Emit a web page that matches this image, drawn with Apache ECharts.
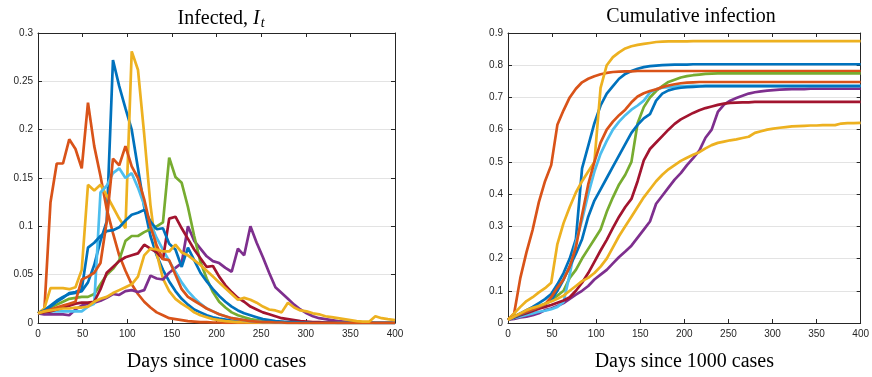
<!DOCTYPE html>
<html>
<head>
<meta charset="utf-8">
<script src="https://cdn.jsdelivr.net/npm/echarts@6/dist/echarts.min.js"></script>
<style>
html,body{margin:0;padding:0;background:#fff;}
#chart{width:872px;height:377px;}
</style>
</head>
<body>
<div id="chart"></div>
<script>
// Days since 1000 cases (weekly samples)
var days = [0,7,14,21,28,35,42,49,56,63,
  70,77,84,91,98,105,112,119,126,133,
  140,147,154,161,168,175,182,189,196,203,
  210,217,224,231,238,245,252,259,266,273,
  280,287,294,301,308,315,322,329,336,343,
  350,357,364,371,378,385,392,400];

var xTicks = [0,50,100,150,200,250,300,350,400];
var yTicksLeft = [0,0.05,0.1,0.15,0.2,0.25,0.3];
var yTicksRight = [0,0.1,0.2,0.3,0.4,0.5,0.6,0.7,0.8,0.9];

var colors = ['#0072BD','#D95319','#EDB120','#7E2F8E','#77AC30','#4DBEEE','#A2142F','#0072BD','#D95319','#EDB120'];

// Infected, I_t
var inf1 = [0.010,0.013,0.018,0.023,0.027,0.030,0.031,0.033,0.042,0.060,
  0.085,0.105,0.272,0.245,0.222,0.200,0.160,0.120,0.090,0.070,
  0.055,0.043,0.033,0.025,0.019,0.014,0.011,0.008,0.006,0.0045,
  0.0035,0.0025,0.002,0.0015,0.001,0.001,0.0005,0.0005,0.0005,0.0005,
  0,0,0,0,0,0,0,0,0,0,
  0,0,0,0,0,0,0,0];
var inf2 = [0.010,0.011,0.125,0.165,0.165,0.190,0.180,0.160,0.228,0.183,
  0.152,0.118,0.093,0.070,0.054,0.040,0.030,0.022,0.016,0.011,
  0.008,0.005,0.004,0.003,0.002,0.0015,0.001,0.001,0.0005,0.0005,
  0,0,0,0,0,0,0,0,0,0,
  0,0,0,0,0,0,0,0,0,0,
  0,0,0,0,0,0,0,0];
var inf3 = [0.010,0.015,0.036,0.036,0.036,0.035,0.037,0.055,0.143,0.137,
  0.143,0.132,0.120,0.108,0.098,0.281,0.262,0.195,0.122,0.072,
  0.046,0.033,0.025,0.020,0.016,0.011,0.008,0.006,0.004,0.003,
  0.002,0.0015,0.001,0.001,0.0005,0.0005,0,0,0,0,
  0,0,0,0,0,0,0,0,0,0,
  0,0,0,0,0,0,0,0];
var inf4 = [0.010,0.009,0.009,0.009,0.009,0.008,0.014,0.018,0.020,0.021,
  0.023,0.026,0.030,0.029,0.033,0.034,0.032,0.034,0.049,0.046,
  0.045,0.052,0.057,0.062,0.100,0.085,0.077,0.069,0.064,0.062,
  0.057,0.053,0.077,0.070,0.100,0.083,0.068,0.052,0.037,0.031,
  0.025,0.019,0.014,0.010,0.007,0.005,0.004,0.003,0.002,0.0015,
  0.001,0.001,0.0005,0.0005,0,0,0,0];
var inf5 = [0.010,0.013,0.016,0.019,0.022,0.025,0.026,0.027,0.027,0.030,
  0.040,0.050,0.056,0.065,0.085,0.090,0.090,0.094,0.097,0.100,
  0.104,0.171,0.151,0.145,0.120,0.090,0.063,0.046,0.032,0.022,
  0.016,0.011,0.008,0.006,0.004,0.003,0.002,0.0015,0.001,0.001,
  0.0005,0.0005,0,0,0,0,0,0,0,0,
  0,0,0,0,0,0,0,0];
var inf6 = [0.010,0.011,0.012,0.012,0.012,0.012,0.012,0.012,0.017,0.020,
  0.135,0.142,0.155,0.160,0.150,0.155,0.140,0.122,0.103,0.088,
  0.076,0.064,0.053,0.042,0.033,0.026,0.020,0.015,0.012,0.009,
  0.007,0.005,0.004,0.003,0.002,0.0015,0.001,0.001,0.0005,0,
  0,0,0,0,0,0,0,0,0,0,
  0,0,0,0,0,0,0,0];
var inf7 = [0.010,0.011,0.012,0.014,0.016,0.018,0.020,0.021,0.021,0.022,
  0.035,0.052,0.058,0.064,0.068,0.070,0.072,0.081,0.077,0.073,
  0.066,0.108,0.110,0.098,0.087,0.076,0.067,0.058,0.059,0.048,
  0.039,0.032,0.026,0.022,0.017,0.014,0.011,0.009,0.007,0.005,
  0.004,0.003,0.002,0.0015,0.001,0.001,0.0005,0.0005,0,0,
  0,0,0,0,0,0,0,0];
var inf8 = [0.010,0.013,0.017,0.022,0.026,0.031,0.032,0.035,0.078,0.083,
  0.090,0.095,0.096,0.099,0.106,0.112,0.114,0.117,0.105,0.097,
  0.098,0.082,0.076,0.058,0.078,0.065,0.052,0.043,0.035,0.028,
  0.022,0.017,0.013,0.010,0.008,0.006,0.004,0.003,0.002,0.0015,
  0.001,0.001,0.0005,0.0005,0,0,0,0,0,0,
  0,0,0,0,0,0,0,0];
var inf9 = [0.010,0.012,0.014,0.016,0.018,0.020,0.022,0.045,0.048,0.052,
  0.062,0.105,0.170,0.163,0.183,0.162,0.150,0.128,0.100,0.080,
  0.066,0.065,0.050,0.035,0.027,0.023,0.019,0.015,0.012,0.009,
  0.007,0.005,0.004,0.003,0.002,0.0015,0.001,0.001,0.0005,0.0005,
  0,0,0,0,0,0,0,0,0,0,
  0,0,0,0,0,0,0,0];
var inf10 = [0.010,0.012,0.013,0.014,0.015,0.015,0.016,0.016,0.017,0.022,
  0.025,0.027,0.031,0.034,0.037,0.040,0.048,0.070,0.077,0.076,
  0.074,0.074,0.081,0.073,0.070,0.065,0.060,0.054,0.048,0.042,
  0.036,0.030,0.024,0.026,0.024,0.021,0.017,0.014,0.013,0.011,
  0.021,0.016,0.013,0.012,0.010,0.009,0.007,0.006,0.005,0.004,
  0.003,0.002,0.0015,0.0014,0.007,0.005,0.004,0.003];

// Cumulative infection
var cum1 = [0.010,0.020,0.030,0.040,0.050,0.062,0.074,0.090,0.120,0.155,
  0.200,0.260,0.480,0.550,0.620,0.675,0.712,0.735,0.758,0.773,
  0.782,0.789,0.794,0.797,0.799,0.800,0.801,0.802,0.802,0.802,
  0.803,0.803,0.803,0.803,0.803,0.803,0.803,0.803,0.803,0.803,
  0.803,0.803,0.803,0.803,0.803,0.803,0.803,0.803,0.803,0.803,
  0.803,0.803,0.803,0.803,0.803,0.803,0.803,0.803];
var cum2 = [0.010,0.030,0.140,0.220,0.290,0.375,0.440,0.490,0.615,0.660,
  0.700,0.727,0.747,0.758,0.766,0.772,0.776,0.779,0.780,0.781,
  0.781,0.782,0.782,0.782,0.782,0.782,0.782,0.782,0.782,0.782,
  0.782,0.782,0.782,0.782,0.782,0.782,0.782,0.782,0.782,0.782,
  0.782,0.782,0.782,0.782,0.782,0.782,0.782,0.782,0.782,0.782,
  0.782,0.782,0.782,0.782,0.782,0.782,0.782,0.782];
var cum3 = [0.010,0.030,0.050,0.068,0.080,0.095,0.108,0.125,0.245,0.310,
  0.360,0.405,0.440,0.470,0.500,0.730,0.800,0.825,0.840,0.852,
  0.859,0.863,0.866,0.869,0.872,0.873,0.874,0.874,0.874,0.874,
  0.875,0.875,0.875,0.875,0.875,0.875,0.875,0.875,0.875,0.875,
  0.875,0.875,0.875,0.875,0.875,0.875,0.875,0.875,0.875,0.875,
  0.875,0.875,0.875,0.875,0.875,0.875,0.875,0.875];
var cum4 = [0.010,0.013,0.017,0.020,0.024,0.030,0.040,0.045,0.053,0.062,
  0.075,0.088,0.100,0.115,0.135,0.150,0.165,0.185,0.205,0.222,
  0.240,0.265,0.290,0.315,0.370,0.395,0.420,0.445,0.465,0.490,
  0.512,0.535,0.575,0.600,0.655,0.678,0.690,0.698,0.705,0.712,
  0.716,0.719,0.721,0.723,0.724,0.725,0.726,0.726,0.726,0.727,
  0.727,0.727,0.727,0.727,0.727,0.727,0.727,0.727];
var cum5 = [0.010,0.020,0.028,0.036,0.044,0.052,0.060,0.070,0.085,0.100,
  0.140,0.165,0.200,0.230,0.260,0.290,0.345,0.390,0.430,0.460,
  0.500,0.620,0.670,0.700,0.720,0.735,0.748,0.755,0.762,0.766,
  0.769,0.771,0.773,0.774,0.775,0.775,0.775,0.775,0.775,0.775,
  0.775,0.775,0.775,0.775,0.775,0.775,0.775,0.775,0.775,0.775,
  0.775,0.775,0.775,0.775,0.775,0.775,0.775,0.775];
var cum6 = [0.010,0.016,0.020,0.025,0.030,0.035,0.038,0.043,0.050,0.065,
  0.150,0.250,0.320,0.400,0.470,0.525,0.565,0.600,0.625,0.645,
  0.662,0.675,0.690,0.715,0.725,0.730,0.732,0.734,0.735,0.735,
  0.736,0.736,0.736,0.736,0.736,0.736,0.736,0.736,0.736,0.736,
  0.736,0.736,0.736,0.736,0.736,0.736,0.736,0.736,0.736,0.736,
  0.736,0.736,0.736,0.736,0.736,0.736,0.736,0.736];
var cum7 = [0.010,0.017,0.024,0.030,0.037,0.044,0.050,0.056,0.063,0.070,
  0.080,0.100,0.125,0.155,0.190,0.225,0.258,0.295,0.330,0.360,
  0.385,0.440,0.505,0.540,0.560,0.580,0.600,0.618,0.632,0.642,
  0.652,0.660,0.667,0.672,0.677,0.681,0.683,0.684,0.685,0.685,
  0.686,0.686,0.686,0.686,0.686,0.686,0.686,0.686,0.686,0.686,
  0.686,0.686,0.686,0.686,0.686,0.686,0.686,0.686];
var cum8 = [0.010,0.018,0.026,0.034,0.042,0.050,0.058,0.070,0.100,0.135,
  0.175,0.215,0.260,0.330,0.380,0.415,0.450,0.485,0.520,0.555,
  0.590,0.615,0.635,0.648,0.690,0.712,0.722,0.727,0.730,0.732,
  0.733,0.734,0.735,0.735,0.735,0.735,0.735,0.735,0.735,0.735,
  0.735,0.735,0.735,0.735,0.735,0.735,0.735,0.735,0.735,0.735,
  0.735,0.735,0.735,0.735,0.735,0.735,0.735,0.735];
var cum9 = [0.010,0.020,0.028,0.035,0.042,0.050,0.058,0.080,0.110,0.135,
  0.175,0.235,0.335,0.430,0.500,0.560,0.600,0.625,0.645,0.662,
  0.685,0.703,0.713,0.720,0.725,0.732,0.737,0.741,0.744,0.746,
  0.747,0.748,0.748,0.748,0.748,0.748,0.748,0.748,0.748,0.748,
  0.748,0.748,0.748,0.748,0.748,0.748,0.748,0.748,0.748,0.748,
  0.748,0.748,0.748,0.748,0.748,0.748,0.748,0.748];
var cum10 = [0.010,0.020,0.030,0.040,0.047,0.053,0.060,0.067,0.075,0.085,
  0.100,0.115,0.130,0.140,0.155,0.175,0.200,0.235,0.270,0.300,
  0.330,0.360,0.390,0.415,0.440,0.460,0.477,0.490,0.503,0.513,
  0.522,0.530,0.542,0.552,0.559,0.563,0.567,0.570,0.574,0.578,
  0.590,0.595,0.600,0.603,0.606,0.608,0.610,0.611,0.612,0.613,
  0.613,0.614,0.614,0.614,0.619,0.620,0.620,0.621];

var infected = [inf1,inf2,inf3,inf4,inf5,inf6,inf7,inf8,inf9,inf10];
var cumulative = [cum1,cum2,cum3,cum4,cum5,cum6,cum7,cum8,cum9,cum10];

function pairs(vals){
  var out = [];
  for (var i = 0; i < days.length; i++) out.push([days[i], vals[i]]);
  return out;
}

var AX = '#262626';
var SANS = 'Liberation Sans, Arial, sans-serif';
var SERIF = 'Liberation Serif, Times New Roman, serif';

function xAx(grid, pos){
  return {
    type:'value', gridIndex:grid, position:pos, min:xTicks[0], max:xTicks[xTicks.length-1],
    interval:xTicks[1]-xTicks[0],
    axisLine:{show:true,onZero:false,lineStyle:{color:AX,width:1}},
    axisTick:{show:true,inside:true,length:4,lineStyle:{color:AX,width:1}},
    axisLabel:{show:pos==='bottom',color:AX,fontSize:10,fontFamily:SANS,margin:6},
    splitLine:{show:false},
    name: pos==='bottom' ? 'Days since 1000 cases' : '',
    nameLocation:'middle', nameGap:29,
    nameTextStyle:{fontFamily:SERIF,fontSize:20,color:'#000'}
  };
}
function yAx(grid, pos, ticks){
  return {
    type:'value', gridIndex:grid, position:pos, min:ticks[0], max:ticks[ticks.length-1],
    interval:ticks[1]-ticks[0],
    axisLine:{show:true,onZero:false,lineStyle:{color:AX,width:1}},
    axisTick:{show:true,inside:true,length:4,lineStyle:{color:AX,width:1}},
    axisLabel:{show:pos==='left',color:AX,fontSize:10,fontFamily:SANS,margin:5,
      formatter:function(v){return String(parseFloat(v.toFixed(2)));}},
    splitLine:{show:pos==='left',lineStyle:{color:'#e3e3e3',width:1}}
  };
}

var series = [];
infected.forEach(function(arr, k){
  series.push({type:'line', xAxisIndex:0, yAxisIndex:0, data:pairs(arr), showSymbol:false,
    lineStyle:{color:colors[k],width:2.7}, itemStyle:{color:colors[k]}, z:2+k, silent:true});
});
cumulative.forEach(function(arr, k){
  series.push({type:'line', xAxisIndex:2, yAxisIndex:2, data:pairs(arr), showSymbol:false,
    lineStyle:{color:colors[k],width:2.7}, itemStyle:{color:colors[k]}, z:2+k, silent:true});
});

var chart = echarts.init(document.getElementById('chart'), null, {renderer:'canvas'});
chart.setOption({
  animation:false,
  backgroundColor:'#fff',
  title:[
    {text:'{n|Infected, }{i|I}{s|t}', left:216, top:2, textAlign:'center',
      textStyle:{fontWeight:'normal', rich:{
        n:{fontFamily:SERIF,fontSize:20,fontWeight:'normal',color:'#000'},
        i:{fontFamily:SERIF,fontSize:20,fontWeight:'normal',fontStyle:'italic',color:'#000'},
        s:{fontFamily:SERIF,fontSize:14,fontWeight:'normal',fontStyle:'italic',color:'#000',padding:[9,0,0,1]}
      }}},
    {text:'Cumulative infection', left:686, top:2, textAlign:'center',
      textStyle:{fontFamily:SERIF,fontSize:20,fontWeight:'normal',color:'#000'}}
  ],
  grid:[
    {left:38, top:33, width:357, height:298},
    {left:508, top:33, width:357, height:298}
  ],
  xAxis:[xAx(0,'bottom'), xAx(0,'top'), xAx(1,'bottom'), xAx(1,'top')],
  yAxis:[yAx(0,'left',yTicksLeft), yAx(0,'right',yTicksLeft), yAx(1,'left',yTicksRight), yAx(1,'right',yTicksRight)],
  series:series
});
</script>
</body>
</html>
